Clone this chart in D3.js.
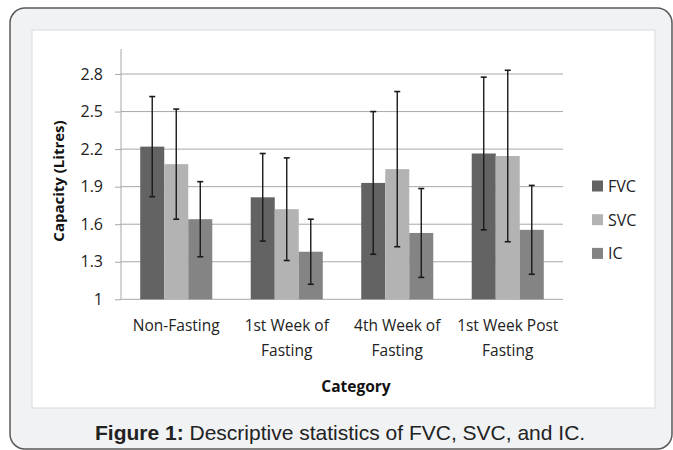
<!DOCTYPE html>
<html>
<head>
<meta charset="utf-8">
<script src="https://cdn.jsdelivr.net/npm/d3@7"></script>
<style>
  html, body { margin: 0; padding: 0; background: #ffffff; }
  svg { display: block; }
</style>
</head>
<body>
<svg id="chart" width="673" height="450"></svg>
<script>
// ---- data ----
const categories = ["Non-Fasting", "1st Week of Fasting", "4th Week of Fasting", "1st Week Post Fasting"];
const categoryLines = [["Non-Fasting"], ["1st Week of", "Fasting"], ["4th Week of", "Fasting"], ["1st Week Post", "Fasting"]];
const seriesNames = ["FVC", "SVC", "IC"];
const fvc = [2.22, 1.815, 1.93, 2.165];
const svc = [2.08, 1.72, 2.04, 2.145];
const ic = [1.64, 1.38, 1.53, 1.555];
const fvcSD = [0.40, 0.35, 0.57, 0.61];
const svcSD = [0.44, 0.41, 0.62, 0.685];
const icSD = [0.30, 0.26, 0.355, 0.355];
const yTicks = [1, 1.3, 1.6, 1.9, 2.2, 2.5, 2.8];
const seriesColors = ["#636363", "#b3b3b3", "#848484"];

const values = [fvc, svc, ic];
const sds = [fvcSD, svcSD, icSD];
const rows = [];
categories.forEach((c, i) => {
  seriesNames.forEach((s, j) => {
    rows.push({cat: c, series: s, value: values[j][i], sd: sds[j][i], color: seriesColors[j]});
  });
});

const svg = d3.select("#chart");
const labelFont = "'Open Sans', 'Noto Sans', sans-serif";

// outer card
svg.append("rect").attr("x", 10).attr("y", 8).attr("width", 662).attr("height", 441)
  .attr("rx", 15).attr("fill", "#f1f2f4").attr("stroke", "#5a5a5a").attr("stroke-width", 1.5);
// white chart panel
svg.append("rect").attr("x", 32).attr("y", 30).attr("width", 623).attr("height", 378)
  .attr("fill", "#ffffff").attr("stroke", "#d9d9d9").attr("stroke-width", 1);

const plot = {left: 121, right: 563, top: 49, bottom: 299.3};
const y = d3.scaleLinear().domain([1, 3]).range([plot.bottom, plot.top]);
const x0 = d3.scaleBand().domain(categories).range([plot.left, plot.right])
  .paddingInner(0.348).paddingOuter(0.174);
const x1 = d3.scaleBand().domain(seriesNames).range([0, x0.bandwidth()]).padding(0);

// gridlines
svg.append("g").selectAll("line").data(yTicks).join("line")
  .attr("x1", plot.left).attr("x2", plot.right)
  .attr("y1", d => y(d)).attr("y2", d => y(d))
  .attr("stroke", "#a8a8a8").attr("stroke-width", 1);

// y axis
const yAxis = d3.axisLeft(y).tickValues(yTicks).tickSize(6).tickPadding(12)
  .tickFormat(d => d3.format("")(+d.toFixed(1)));
const gy = svg.append("g").attr("transform", `translate(${plot.left},0)`).call(yAxis);
gy.select(".domain").attr("stroke", "#a8a8a8").attr("d", `M-0,${plot.top}V${plot.bottom}`);
gy.selectAll(".tick line").attr("stroke", "#a8a8a8");
gy.selectAll(".tick text").attr("font-family", labelFont).attr("font-size", 16)
  .attr("fill", "#222");

// bars
const groups = svg.append("g").selectAll("g").data(categories).join("g")
  .attr("transform", d => `translate(${x0(d)},0)`);
groups.selectAll("rect").data(c => rows.filter(r => r.cat === c)).join("rect")
  .attr("x", d => x1(d.series)).attr("width", x1.bandwidth())
  .attr("y", d => y(d.value)).attr("height", d => y(1) - y(d.value))
  .attr("fill", d => d.color);

// error bars
const eb = groups.selectAll("g.err").data(c => rows.filter(r => r.cat === c)).join("g").attr("class", "err");
eb.append("line")
  .attr("x1", d => x1(d.series) + x1.bandwidth() / 2).attr("x2", d => x1(d.series) + x1.bandwidth() / 2)
  .attr("y1", d => y(d.value - d.sd)).attr("y2", d => y(d.value + d.sd))
  .attr("stroke", "#1a1a1a").attr("stroke-width", 1.4);
eb.selectAll("line.cap").data(d => [{d, v: d.value - d.sd}, {d, v: d.value + d.sd}]).join("line")
  .attr("class", "cap")
  .attr("x1", e => x1(e.d.series) + x1.bandwidth() / 2 - 3).attr("x2", e => x1(e.d.series) + x1.bandwidth() / 2 + 3)
  .attr("y1", e => y(e.v)).attr("y2", e => y(e.v))
  .attr("stroke", "#1a1a1a").attr("stroke-width", 1.6);

// x category labels
const xl = svg.append("g").selectAll("text").data(categories).join("text")
  .attr("font-family", labelFont).attr("font-size", 15.5).attr("fill", "#222")
  .attr("text-anchor", "middle");
xl.each(function(c, i) {
  const cx = x0(c) + x0.bandwidth() / 2;
  d3.select(this).selectAll("tspan").data(categoryLines[i]).join("tspan")
    .attr("x", cx).attr("y", (t, k) => 331 + k * 24.5).text(t => t);
});

// axis titles
svg.append("text").attr("x", 356).attr("y", 392).attr("text-anchor", "middle")
  .attr("font-family", labelFont).attr("font-weight", "bold").attr("font-size", 15.5)
  .attr("fill", "#111").text("Category");
svg.append("text").attr("transform", "translate(64,181) rotate(-90)").attr("text-anchor", "middle")
  .attr("font-family", labelFont).attr("font-weight", "bold").attr("font-size", 15)
  .attr("fill", "#111").text("Capacity (Litres)");

// legend
const leg = svg.append("g").selectAll("g").data(seriesNames).join("g")
  .attr("transform", (d, i) => `translate(592,${186 + i * 33.7})`);
leg.append("rect").attr("x", 0).attr("y", -5.5).attr("width", 11).attr("height", 11)
  .attr("fill", (d, i) => seriesColors[i]);
leg.append("text").attr("x", 16).attr("y", 6).attr("font-family", labelFont)
  .attr("font-size", 16).attr("fill", "#222").text(d => d);

// caption
const cap = svg.append("text").attr("x", 95).attr("y", 440)
  .attr("font-family", "'Liberation Sans', Arial, sans-serif").attr("font-size", 21).attr("fill", "#222");
cap.append("tspan").attr("font-weight", "bold").text("Figure 1:");
cap.append("tspan").text(" Descriptive statistics of FVC, SVC, and IC.");
</script>
</body>
</html>
